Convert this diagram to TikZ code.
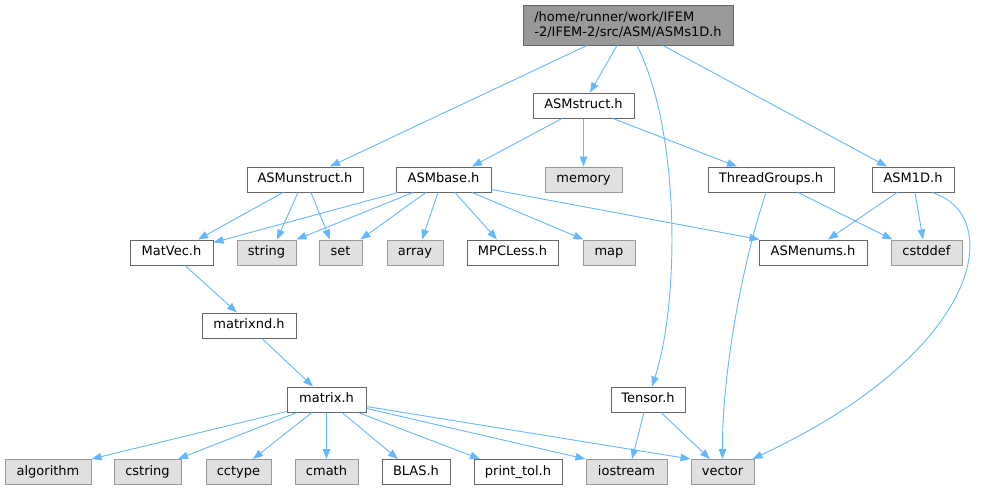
\documentclass[tikz,border=0pt]{standalone}
\usepackage{fontspec}
\setmainfont{DejaVu Sans}
\usetikzlibrary{arrows.meta}
\definecolor{edgec}{HTML}{63B8FF}
\definecolor{boxline}{HTML}{666666}
\definecolor{sysline}{HTML}{999999}
\definecolor{sysfill}{HTML}{E0E0E0}
\definecolor{rootfill}{HTML}{999999}
\begin{document}
\begin{tikzpicture}[x=1pt,y=-1pt,
  basebox/.style={draw=boxline, fill=white, line width=1pt, inner sep=0pt, font=\fontsize{13}{15}\selectfont},
  box/.style={basebox, minimum height=25pt, text height=9.6pt, text depth=2.8pt},
  sys/.style={box, draw=sysline, fill=sysfill},
  rootbox/.style={basebox, fill=rootfill, minimum height=40pt, align=left},
  edge/.style={draw=edgec, line width=0.9pt, -{Triangle[length=10pt,width=7.5pt]}}]
\useasboundingbox (0,0) rectangle (982,491);
% row 0
\node[rootbox, minimum width=210pt] (root) at (628,25) {/home/runner/work/IFEM\\-2/IFEM-2/src/ASM/ASMs1D.h};
% row 1
\node[box, minimum width=101pt] (ASMstruct) at (583.5,105.5) {ASMstruct.h};
% row 2
\node[box, minimum width=116pt] (ASMunstruct) at (305,179.5) {ASMunstruct.h};
\node[box, minimum width=95pt] (ASMbase) at (443.5,179.5) {ASMbase.h};
\node[sys, minimum width=77pt] (memory) at (583.5,179.5) {memory};
\node[box, minimum width=126pt] (ThreadGroups) at (771,179.5) {ThreadGroups.h};
\node[box, minimum width=82pt] (ASM1D) at (913,179.5) {ASM1D.h};
% row 3
\node[box, minimum width=83pt] (MatVec) at (171.5,252.5) {MatVec.h};
\node[sys, minimum width=59pt] (string) at (266.5,252.5) {string};
\node[sys, minimum width=43pt] (set) at (340.5,252.5) {set};
\node[sys, minimum width=56pt] (array) at (415,252.5) {array};
\node[box, minimum width=91pt] (MPCLess) at (512.5,252.5) {MPCLess.h};
\node[sys, minimum width=52pt] (map) at (609,252.5) {map};
\node[box, minimum width=108pt] (ASMenums) at (813,252.5) {ASMenums.h};
\node[sys, minimum width=71pt] (cstddef) at (926.5,252.5) {cstddef};
% row 4
\node[box, minimum width=94pt] (matrixnd) at (249,325.5) {matrixnd.h};
% row 5
\node[box, minimum width=79pt] (matrix) at (326.5,399.5) {matrix.h};
\node[box, minimum width=74pt] (Tensor) at (648,399.5) {Tensor.h};
% row 6
\node[sys, minimum width=86pt] (algorithm) at (48,472) {algorithm};
\node[sys, minimum width=67pt] (cstring) at (147.5,472) {cstring};
\node[sys, minimum width=65pt] (cctype) at (238.5,472) {cctype};
\node[sys, minimum width=63pt] (cmath) at (326.5,472) {cmath};
\node[box, minimum width=68pt] (BLAS) at (416,472) {BLAS.h};
\node[box, minimum width=88pt] (printtol) at (518,472) {print\_tol.h};
\node[sys, minimum width=81pt] (iostream) at (626.5,472) {iostream};
\node[sys, minimum width=63pt] (vector) at (722.5,472) {vector};

% edges from root
\draw[edge] ([xshift=-41pt]root.south) -- ([xshift=25pt]ASMunstruct.north);
\draw[edge] ([xshift=-11pt]root.south) -- ([xshift=6.5pt]ASMstruct.north);
\draw[edge] ([xshift=9pt]root.south) .. controls (680,130) and (680,300) .. ([xshift=4pt]Tensor.north);
\draw[edge] ([xshift=35pt]root.south) -- ([xshift=-26pt]ASM1D.north);
% ASMstruct
\draw[edge] ([xshift=-21.5pt]ASMstruct.south) -- ([xshift=28.5pt]ASMbase.north);
\draw[edge] (ASMstruct.south) -- (memory.north);
\draw[edge] ([xshift=29.5pt]ASMstruct.south) -- ([xshift=-34pt]ThreadGroups.north);
% ASMunstruct
\draw[edge] ([xshift=-22pt]ASMunstruct.south) -- ([xshift=26.5pt]MatVec.north);
\draw[edge] ([xshift=-7pt]ASMunstruct.south) -- ([xshift=10.5pt]string.north);
\draw[edge] ([xshift=6pt]ASMunstruct.south) -- ([xshift=-10.5pt]set.north);
% ASMbase
\draw[edge] ([xshift=-45.5pt]ASMbase.south) -- ([yshift=-3pt]MatVec.north east);
\draw[edge] ([xshift=-30.5pt]ASMbase.south) -- (string.north east);
\draw[edge] ([xshift=-17.5pt]ASMbase.south) -- ([xshift=-2pt]set.north east);
\draw[edge] ([xshift=-5.5pt]ASMbase.south) -- ([xshift=7pt]array.north);
\draw[edge] ([xshift=11.5pt]ASMbase.south) -- ([xshift=-15.5pt]MPCLess.north);
\draw[edge] ([xshift=28.5pt]ASMbase.south) -- ([xshift=1pt]map.north west);
\draw[edge] ([yshift=3pt]ASMbase.south east) -- ([xshift=1pt]ASMenums.north west);
% ThreadGroups
\draw[edge] ([xshift=27pt]ThreadGroups.south) -- ([xshift=2pt]cstddef.north west);
\draw[edge] ([xshift=-5pt]ThreadGroups.south) .. controls (740,270) and (722,380) .. (vector.north);
% ASM1D
\draw[edge] ([xshift=-16pt]ASM1D.south) -- ([xshift=15pt]ASMenums.north);
\draw[edge] ([xshift=2pt]ASM1D.south) -- ([xshift=-3.5pt]cstddef.north);
\draw[edge] ([xshift=19pt]ASM1D.south) .. controls (1005,215) and (985,350) .. ([xshift=-2pt]vector.north east);
% MatVec, matrixnd
\draw[edge] ([xshift=13.5pt]MatVec.south) -- ([xshift=-12pt]matrixnd.north);
\draw[edge] ([xshift=13pt]matrixnd.south) -- ([xshift=-13.5pt]matrix.north);
% matrix
\draw[edge] ([yshift=1pt]matrix.south west) -- (algorithm.north east);
\draw[edge] ([xshift=-29.5pt]matrix.south) -- ([xshift=30.5pt]cstring.north);
\draw[edge] ([xshift=-14.5pt]matrix.south) -- ([xshift=14.5pt]cctype.north);
\draw[edge] (matrix.south) -- (cmath.north);
\draw[edge] ([xshift=15.5pt]matrix.south) -- ([xshift=-18pt]BLAS.north);
\draw[edge] ([xshift=31.5pt]matrix.south) -- ([xshift=-38pt]printtol.north);
\draw[edge] ([yshift=4pt]matrix.south east) -- (iostream.north west);
\draw[edge] ([yshift=6pt]matrix.south east) -- (vector.north west);
% Tensor
\draw[edge] ([xshift=-4pt]Tensor.south) -- ([xshift=5.5pt]iostream.north);
\draw[edge] ([xshift=13pt]Tensor.south) -- ([xshift=-12.5pt]vector.north);
\end{tikzpicture}
\end{document}
